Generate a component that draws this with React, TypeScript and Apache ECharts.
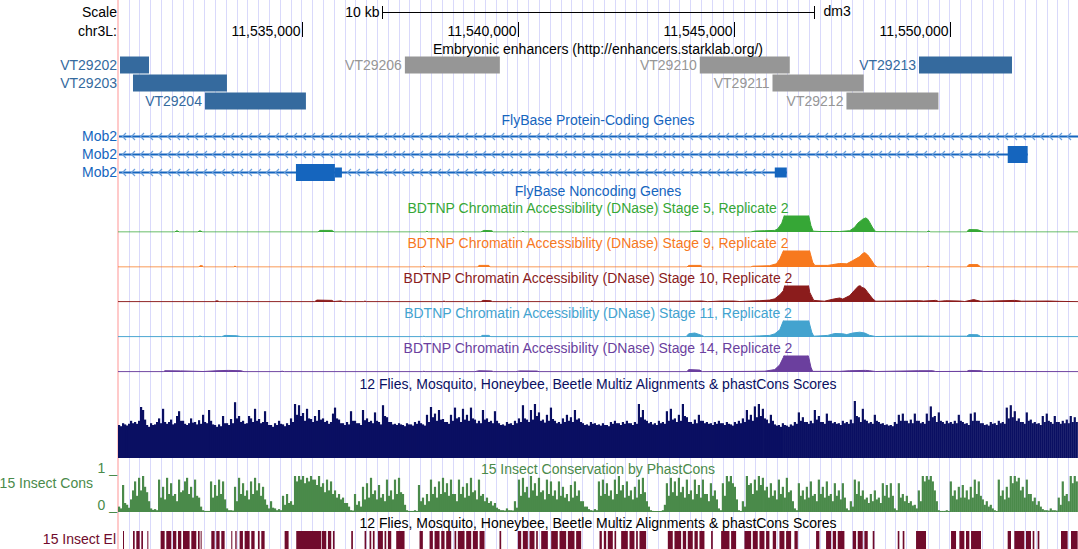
import React, { useEffect, useRef } from "react";
import * as echarts from "echarts";

// ---------------- data ----------------
const VIEW_START = 11530750;
const VIEW_END = 11552972;
const GUIDE_STEP = 250;
const COORD_TICKS = [11535000, 11540000, 11545000, 11550000];
const SCALE_BAR = [11536861, 11546861];
const SCALE_LABEL = "10 kb";
const ASSEMBLY = "dm3";
const CHROM_LABEL = "chr3L:";

const ENH_NAMES = ["VT29202", "VT29203", "VT29204", "VT29206", "VT29210", "VT29211", "VT29212", "VT29213"];
const ENH_START = [11530796, 11531097, 11532763, 11537391, 11544217, 11545900, 11547612, 11549292];
const ENH_END = [11531467, 11533272, 11535100, 11539589, 11546300, 11548012, 11549741, 11551444];
const ENH_ROW = [0, 1, 2, 0, 0, 1, 2, 0];
const ENH_ACTIVE = [true, true, true, false, false, false, false, true];

const GENE_NAMES = ["Mob2", "Mob2", "Mob2"];
const GENE_START = [11530600, 11530600, 11530600];
const GENE_END = [11553200, 11551807, 11546231];
// [start, end, thick(1) / thin(0)]
const GENE_EXONS = [
  [],
  [[11551345, 11551807, 1]],
  [[11534869, 11535771, 1], [11535771, 11535933, 0], [11545953, 11546231, 0]],
];

const DNASE_TITLES = [
  "BDTNP Chromatin Accessibility (DNase) Stage 5, Replicate 2",
  "BDTNP Chromatin Accessibility (DNase) Stage 9, Replicate 2",
  "BDTNP Chromatin Accessibility (DNase) Stage 10, Replicate 2",
  "BDTNP Chromatin Accessibility (DNase) Stage 11, Replicate 2",
  "BDTNP Chromatin Accessibility (DNase) Stage 14, Replicate 2",
];
const DNASE_S5 = [
  [11530750, 0], [11532060, 0], [11532115, 0.08], [11532170, 0], [11532590, 0], [11532647, 0.08], [11532710, 0],
  [11535380, 0], [11535424, 0.1], [11535700, 0.1], [11535760, 0], [11537880, 0], [11537900, 0.05], [11537930, 0],
  [11539150, 0], [11539220, 0.1], [11539404, 0.08], [11539440, 0], [11540100, 0], [11540122, 0.06], [11540150, 0],
  [11543980, 0], [11544050, 0.06], [11544240, 0.06], [11544290, 0], [11545400, 0], [11545500, 0.06], [11545720, 0.08],
  [11545953, 0.1], [11546022, 0.2], [11546115, 0.55], [11546170, 1.0], [11546200, 1.5], [11546700, 1.5], [11546740, 1.0],
  [11546790, 0.4], [11546840, 0.05], [11547000, 0.03], [11547450, 0.03], [11547688, 0.08], [11547804, 0.3],
  [11547874, 0.55], [11547989, 0.8], [11548059, 0.88], [11548105, 0.8], [11548151, 0.6], [11548221, 0.25],
  [11548290, 0.02], [11549470, 0], [11549517, 0.06], [11549560, 0], [11550390, 0], [11550450, 0.15], [11550650, 0.14],
  [11550790, 0], [11552972, 0],
];
const DNASE_S9 = [
  [11530750, 0], [11532620, 0], [11532647, 0.08], [11532700, 0.08], [11532730, 0], [11533440, 0], [11533457, 0.07],
  [11533480, 0], [11537800, 0], [11537831, 0.06], [11537860, 0], [11539080, 0], [11539104, 0.1], [11539335, 0.1],
  [11539360, 0], [11543920, 0], [11543960, 0.1], [11544240, 0.1], [11544280, 0], [11545400, 0], [11545444, 0.05],
  [11545830, 0.08], [11545990, 0.2], [11546069, 0.5], [11546150, 1.0], [11546230, 1.5], [11546693, 1.5],
  [11546760, 1.0], [11546830, 0.3], [11546880, 0.1], [11547180, 0.1], [11547295, 0.15], [11547457, 0.22],
  [11547619, 0.2], [11547758, 0.4], [11547920, 0.65], [11547989, 0.85], [11548036, 0.9], [11548105, 0.75],
  [11548198, 0.4], [11548267, 0.1], [11548330, 0], [11549460, 0], [11549493, 0.05], [11549540, 0], [11550390, 0],
  [11550450, 0.15], [11550650, 0.15], [11550720, 0], [11552972, 0],
];
const DNASE_S10 = [
  [11530750, 0.02], [11532980, 0.02], [11533041, 0.08], [11533100, 0.02], [11535300, 0.02], [11535355, 0.12],
  [11535700, 0.1], [11535748, 0.03], [11535910, 0.07], [11535960, 0.02], [11536440, 0.02], [11536466, 0.06],
  [11536500, 0.02], [11538270, 0.02], [11538294, 0.06], [11538330, 0.02], [11539150, 0.02], [11539200, 0.1],
  [11539380, 0.08], [11539420, 0.02], [11541690, 0.02], [11541718, 0.08], [11541760, 0.02], [11543940, 0.05],
  [11544264, 0.06], [11544400, 0.02], [11544700, 0.06], [11545000, 0.06], [11545143, 0.03], [11545374, 0.06],
  [11545606, 0.08], [11545837, 0.12], [11545953, 0.2], [11546069, 0.45], [11546150, 0.7], [11546210, 1.3],
  [11546250, 1.5], [11546700, 1.5], [11546763, 0.6], [11546809, 0.35], [11546855, 0.1], [11547100, 0.05],
  [11547342, 0.2], [11547457, 0.25], [11547527, 0.18], [11547688, 0.4], [11547804, 0.75], [11547874, 0.95],
  [11547920, 1.08], [11547960, 0.92], [11548036, 0.85], [11548105, 0.6], [11548221, 0.2], [11548290, 0.05],
  [11549285, 0.08], [11549400, 0.06], [11549679, 0.1], [11549748, 0.04], [11549910, 0.08], [11550234, 0.06],
  [11550350, 0.03], [11550558, 0.15], [11550720, 0.04], [11551507, 0.1], [11551669, 0.05], [11552316, 0.06],
  [11552548, 0.04], [11552972, 0.02],
];
const DNASE_S11 = [
  [11530750, 0.02], [11532600, 0.02], [11532647, 0.06], [11532700, 0.02], [11533150, 0.02], [11533226, 0.1],
  [11533500, 0.08], [11533596, 0.02], [11537800, 0.02], [11537831, 0.05], [11537860, 0.02], [11539150, 0.02],
  [11539173, 0.1], [11539335, 0.1], [11539380, 0.02], [11543900, 0.02], [11543960, 0.2], [11544102, 0.25],
  [11544264, 0.1], [11544320, 0.02], [11545374, 0.04], [11545606, 0.07], [11545837, 0.1], [11545953, 0.2],
  [11546069, 0.45], [11546150, 1.0], [11546200, 1.5], [11546693, 1.5], [11546740, 1.0], [11546809, 0.3],
  [11546855, 0.05], [11547179, 0.1], [11547342, 0.22], [11547527, 0.2], [11547619, 0.15], [11547758, 0.25],
  [11547920, 0.3], [11548036, 0.25], [11548151, 0.1], [11548290, 0.03], [11548845, 0.05], [11549308, 0.06],
  [11549609, 0.05], [11550396, 0.05], [11550450, 0.15], [11550650, 0.14], [11550720, 0.03], [11552972, 0.02],
];
const DNASE_S14 = [
  [11530750, 0.02], [11531800, 0.02], [11531838, 0.08], [11532200, 0.07], [11532717, 0.03], [11533041, 0.08],
  [11533300, 0.1], [11533596, 0.08], [11533666, 0.02], [11534500, 0.02], [11534550, 0.05], [11534600, 0.02],
  [11537800, 0.02], [11537831, 0.05], [11537860, 0.02], [11539011, 0.02], [11539100, 0.08], [11539404, 0.06],
  [11539440, 0.02], [11539960, 0.02], [11540050, 0.07], [11540446, 0.06], [11540500, 0.02], [11543920, 0.02],
  [11543960, 0.15], [11544217, 0.12], [11544280, 0.02], [11545444, 0.04], [11545722, 0.05], [11545953, 0.15],
  [11546069, 0.45], [11546150, 0.9], [11546230, 1.5], [11546670, 1.5], [11546740, 0.9], [11546790, 0.3],
  [11546830, 0.04], [11547457, 0.04], [11547688, 0.08], [11548050, 0.1], [11548151, 0.08], [11548290, 0.03],
  [11549285, 0.08], [11549609, 0.08], [11549679, 0.03], [11550396, 0.04], [11550450, 0.1], [11550720, 0.08],
  [11550789, 0.03], [11552972, 0.02],
];

const BIN_BP = 46.28;
const MULTIZ = [
  0.55, 0.53, 0.58, 0.56, 0.54, 0.57, 0.62, 0.58, 0.60, 0.57, 0.62, 0.85, 0.80, 0.64, 0.55, 0.52, 0.58, 0.55, 0.56, 0.60,
  0.66, 0.58, 0.82, 0.60, 0.57, 0.60, 0.64, 0.56, 0.58, 0.70, 0.78, 0.62, 0.62, 0.57, 0.55, 0.58, 0.66, 0.59, 0.60, 0.56,
  0.63, 0.57, 0.72, 0.60, 0.58, 0.80, 0.62, 0.56, 0.55, 0.52, 0.56, 0.53, 0.70, 0.58, 0.58, 0.55, 0.65, 0.58, 0.93, 0.66,
  0.70, 0.60, 0.62, 0.57, 0.58, 0.70, 0.66, 0.60, 0.82, 0.62, 0.65, 0.58, 0.60, 0.78, 0.60, 0.55, 0.55, 0.52, 0.58, 0.55,
  0.62, 0.57, 0.56, 0.53, 0.58, 0.55, 0.66, 0.60, 0.90, 0.72, 0.88, 0.70, 0.75, 0.62, 0.82, 0.66, 0.65, 0.60, 0.70, 0.62,
  0.80, 0.64, 0.66, 0.60, 0.62, 0.57, 0.60, 0.74, 0.84, 0.66, 0.64, 0.58, 0.58, 0.55, 0.60, 0.56, 0.78, 0.62, 0.62, 0.58,
  0.58, 0.55, 0.80, 0.63, 0.66, 0.60, 0.62, 0.58, 0.76, 0.62, 0.60, 0.56, 0.88, 0.70, 0.68, 0.60, 0.60, 0.56, 0.57, 0.55,
  0.58, 0.56, 0.55, 0.53, 0.58, 0.56, 0.56, 0.54, 0.60, 0.57, 0.62, 0.58, 0.56, 0.54, 0.72, 0.60, 0.85, 0.68, 0.74, 0.62,
  0.80, 0.64, 0.65, 0.60, 0.60, 0.57, 0.72, 0.62, 0.84, 0.66, 0.68, 0.60, 0.82, 0.64, 0.72, 0.62, 0.84, 0.66, 0.64, 0.58,
  0.62, 0.58, 0.80, 0.64, 0.66, 0.60, 0.62, 0.58, 0.78, 0.62, 0.58, 0.55, 0.56, 0.54, 0.60, 0.57, 0.58, 0.55, 0.62, 0.58,
  0.66, 0.60, 0.88, 0.66, 0.64, 0.60, 0.80, 0.64, 0.90, 0.70, 0.76, 0.62, 0.64, 0.59, 0.72, 0.62, 0.84, 0.65, 0.62, 0.58,
  0.60, 0.57, 0.66, 0.60, 0.72, 0.62, 0.68, 0.60, 0.80, 0.64, 0.66, 0.60, 0.58, 0.55, 0.56, 0.54, 0.60, 0.57, 0.58, 0.55,
  0.56, 0.54, 0.58, 0.55, 0.55, 0.53, 0.60, 0.57, 0.62, 0.58, 0.58, 0.55, 0.60, 0.57, 0.62, 0.58, 0.58, 0.55, 0.60, 0.57,
  0.90, 0.68, 0.80, 0.64, 0.62, 0.58, 0.60, 0.56, 0.58, 0.55, 0.62, 0.58, 0.60, 0.57, 0.78, 0.62, 0.82, 0.64, 0.66, 0.60,
  0.72, 0.62, 0.90, 0.70, 0.68, 0.60, 0.60, 0.57, 0.64, 0.58, 0.72, 0.62, 0.62, 0.58, 0.60, 0.57, 0.58, 0.55, 0.60, 0.57,
  0.62, 0.58, 0.58, 0.55, 0.60, 0.57, 0.56, 0.54, 0.60, 0.57, 0.62, 0.58, 0.66, 0.60, 0.80, 0.64, 0.72, 0.62, 0.86, 0.68,
  0.90, 0.70, 0.82, 0.66, 0.64, 0.58, 0.72, 0.62, 0.56, 0.54, 0.55, 0.52, 0.58, 0.55, 0.54, 0.52, 0.56, 0.54, 0.60, 0.57,
  0.76, 0.62, 0.68, 0.60, 0.60, 0.57, 0.62, 0.58, 0.80, 0.64, 0.70, 0.60, 0.60, 0.57, 0.74, 0.62, 0.62, 0.58, 0.60, 0.57,
  0.58, 0.55, 0.62, 0.58, 0.60, 0.57, 0.64, 0.58, 0.95, 0.70, 0.68, 0.60, 0.82, 0.64, 0.62, 0.58, 0.60, 0.57, 0.72, 0.62,
  0.60, 0.57, 0.58, 0.55, 0.56, 0.54, 0.55, 0.53, 0.60, 0.57, 0.72, 0.62, 0.74, 0.62, 0.62, 0.58, 0.64, 0.58, 0.74, 0.62,
  0.62, 0.58, 0.60, 0.57, 0.74, 0.62, 0.86, 0.68, 0.70, 0.60, 0.76, 0.62, 0.60, 0.57, 0.62, 0.58, 0.60, 0.57, 0.62, 0.58,
  0.72, 0.62, 0.60, 0.57, 0.58, 0.55, 0.74, 0.62, 0.76, 0.62, 0.62, 0.58, 0.58, 0.55, 0.56, 0.54, 0.60, 0.57, 0.58, 0.55,
  0.62, 0.58, 0.60, 0.57, 0.84, 0.66, 0.88, 0.68, 0.78, 0.62, 0.66, 0.60, 0.60, 0.57, 0.76, 0.62, 0.64, 0.58, 0.60, 0.57,
  0.58, 0.55, 0.70, 0.60, 0.74, 0.62, 0.60, 0.57, 0.70, 0.60, 0.60, 0.57, 0.62, 0.58, 0.64, 0.58, 0.70, 0.60, 0.68, 0.60,
];
const PHASTCONS = [
  0.15, 0.10, 0.75, 0.25, 0.20, 0.12, 0.35, 0.60, 0.85, 0.45, 0.95, 0.60, 1.00, 0.70, 0.55, 0.30, 0.10, 0.06, 0.08, 0.05,
  0.90, 0.40, 0.70, 0.35, 0.95, 0.50, 0.80, 0.45, 0.50, 0.30, 0.90, 0.55, 0.60, 0.85, 0.95, 0.50, 0.70, 0.40, 0.90, 0.45,
  0.40, 0.15, 0.05, 0.03, 0.03, 0.03, 0.85, 0.40, 0.75, 0.45, 0.90, 0.50, 0.85, 0.35, 0.10, 0.05, 0.05, 0.04, 0.70, 0.30,
  0.95, 0.50, 0.80, 0.45, 0.60, 0.35, 0.85, 0.50, 0.95, 0.60, 0.80, 0.45, 0.70, 0.35, 0.20, 0.10, 0.30, 0.12, 0.10, 0.05,
  0.08, 0.05, 0.45, 0.20, 0.50, 0.25, 0.30, 0.20, 1.00, 0.85, 1.00, 0.90, 1.00, 0.80, 0.95, 0.85, 1.00, 0.90, 0.90, 0.75,
  1.00, 0.70, 0.80, 0.55, 0.90, 0.60, 0.85, 0.50, 0.60, 0.40, 0.50, 0.35, 0.40, 0.25, 0.25, 0.15, 0.05, 0.04, 0.50, 0.20,
  0.30, 0.15, 0.70, 0.35, 0.80, 0.40, 0.95, 0.50, 0.60, 0.35, 0.75, 0.40, 0.50, 0.30, 0.90, 0.45, 0.60, 0.35, 0.90, 0.50,
  0.95, 0.55, 0.50, 0.20, 0.05, 0.03, 0.03, 0.03, 0.05, 0.03, 0.75, 0.30, 0.40, 0.20, 0.50, 0.30, 0.90, 0.50, 0.70, 0.40,
  0.85, 0.50, 0.95, 0.55, 0.80, 0.45, 0.90, 0.50, 0.50, 0.30, 0.90, 0.50, 0.70, 0.40, 0.80, 0.45, 0.95, 0.55, 0.60, 0.35,
  0.90, 0.45, 0.50, 0.30, 0.40, 0.25, 0.30, 0.18, 0.25, 0.12, 0.08, 0.05, 0.05, 0.04, 0.10, 0.05, 0.05, 0.04, 0.30, 0.12,
  0.90, 0.45, 0.95, 0.55, 0.70, 0.40, 1.00, 0.60, 0.80, 0.45, 0.95, 0.55, 0.60, 0.35, 0.90, 0.50, 0.85, 0.45, 0.60, 0.35,
  0.85, 0.45, 0.70, 0.40, 0.50, 0.30, 0.75, 0.40, 0.85, 0.45, 0.60, 0.30, 0.30, 0.15, 0.15, 0.08, 0.05, 0.04, 0.08, 0.05,
  0.85, 0.45, 0.90, 0.50, 0.80, 0.45, 0.60, 0.35, 0.90, 0.50, 1.00, 0.60, 0.75, 0.40, 0.85, 0.45, 0.60, 0.35, 0.70, 0.40,
  0.90, 0.50, 0.95, 0.55, 0.30, 0.15, 0.05, 0.03, 0.02, 0.02, 0.02, 0.02, 0.05, 0.20, 0.80, 0.45, 0.95, 0.55, 0.85, 0.45,
  0.95, 0.55, 0.70, 0.40, 0.90, 0.50, 0.60, 0.35, 0.90, 0.50, 0.75, 0.40, 0.90, 0.50, 0.50, 0.30, 0.80, 0.45, 0.60, 0.35,
  0.10, 0.05, 0.80, 0.45, 1.00, 0.85, 1.00, 0.80, 0.70, 0.35, 0.05, 0.03, 0.30, 0.15, 1.00, 0.75, 0.80, 0.50, 0.90, 0.60,
  1.00, 0.75, 0.95, 0.60, 0.70, 0.40, 0.80, 0.45, 0.60, 0.35, 0.90, 0.50, 0.70, 0.40, 0.95, 0.55, 0.60, 0.30, 0.10, 0.05,
  0.80, 0.45, 0.60, 0.35, 0.70, 0.40, 0.85, 0.45, 0.50, 0.30, 0.90, 0.50, 0.70, 0.40, 0.85, 0.45, 0.50, 0.30, 0.80, 0.45,
  0.60, 0.35, 0.80, 0.40, 0.10, 0.05, 0.30, 0.15, 0.90, 0.50, 0.85, 0.45, 0.60, 0.35, 0.40, 0.25, 0.50, 0.30, 0.60, 0.35,
  0.40, 0.25, 0.80, 0.45, 0.75, 0.40, 0.80, 0.45, 0.10, 0.05, 0.80, 0.40, 0.50, 0.30, 0.45, 0.25, 0.30, 0.18, 0.20, 0.10,
  0.60, 0.30, 1.00, 0.85, 1.00, 0.90, 1.00, 0.85, 0.60, 0.30, 0.05, 0.03, 0.03, 0.03, 0.05, 0.03, 0.85, 0.45, 0.60, 0.35,
  0.70, 0.40, 0.75, 0.40, 0.60, 0.35, 0.70, 0.40, 0.90, 0.50, 0.85, 0.45, 0.35, 0.20, 0.30, 0.15, 0.20, 0.10, 0.05, 0.03,
  0.90, 0.45, 0.60, 0.35, 0.70, 0.40, 1.00, 0.80, 1.00, 0.85, 0.95, 0.60, 0.70, 0.40, 0.90, 0.50, 0.50, 0.30, 0.40, 0.20,
  0.30, 0.15, 0.08, 0.05, 0.05, 0.04, 0.10, 0.05, 0.05, 0.04, 0.40, 0.20, 0.85, 0.45, 0.50, 0.30, 1.00, 0.80, 1.00, 0.85,
];
const ELEMENTS = [
  [11530866, 11530889], [11531097, 11531136], [11531174, 11531251], [11531290, 11531328], [11531429, 11531444],
  [11531737, 11531830], [11531868, 11531984], [11532023, 11532100], [11532138, 11532215], [11532254, 11532408],
  [11532447, 11532563], [11532601, 11532640], [11532663, 11532678], [11532910, 11532987], [11533025, 11533102],
  [11533141, 11533218], [11533372, 11533396], [11533465, 11533496], [11533565, 11533642], [11533681, 11533797],
  [11533835, 11533912], [11533989, 11534028], [11534067, 11534144], [11534607, 11534699], [11534876, 11535455],
  [11535470, 11535571], [11535609, 11535686], [11535725, 11535763], [11536149, 11536188], [11536458, 11536496],
  [11536573, 11536612], [11536650, 11536689], [11536766, 11536882], [11536920, 11536959], [11536998, 11537075],
  [11537190, 11537383], [11537730, 11537807], [11537962, 11538039], [11538077, 11538193], [11538232, 11538309],
  [11538347, 11538463], [11538540, 11538579], [11538617, 11538772], [11538810, 11538926], [11538964, 11539080],
  [11539119, 11539234], [11539581, 11539620], [11540006, 11540083], [11540121, 11540237], [11540276, 11540391],
  [11540430, 11540468], [11540546, 11540700], [11540777, 11540931], [11540970, 11541124], [11541163, 11541317],
  [11541355, 11541471], [11541896, 11541950], [11541996, 11542050], [11542088, 11542204], [11542243, 11542281],
  [11542397, 11542551], [11542590, 11542705], [11542744, 11542783], [11542821, 11542975], [11543477, 11543592],
  [11543631, 11543785], [11543824, 11543901], [11543939, 11544055], [11544094, 11544171], [11544209, 11544325],
  [11544479, 11544518], [11544711, 11544904], [11544942, 11545058], [11545251, 11545405], [11545444, 11545559],
  [11545598, 11545714], [11545752, 11545829], [11545906, 11545984], [11546061, 11546176], [11546215, 11546331],
  [11546408, 11546485], [11546909, 11546986], [11547140, 11547256], [11547295, 11547372], [11547410, 11547565],
  [11547757, 11547835], [11547873, 11547989], [11548027, 11548105], [11548220, 11548259], [11548799, 11548837],
  [11548914, 11548953], [11549223, 11549454], [11550033, 11550149], [11550226, 11550341], [11550380, 11550457],
  [11550496, 11550727], [11551344, 11551421], [11551498, 11551730], [11551768, 11551884], [11551923, 11551961],
  [11552038, 11552077], [11552578, 11552732], [11552810, 11552964],
];

// ---------------- layout & style ----------------
const W = 1078;
const H = 549;
const LEFT = 118;
const RIGHT = 1078;
const CX = 598;
const FONT = "14px 'Liberation Sans', Arial, Helvetica, sans-serif";
const ENH_ROW_Y = [65, 83, 101];
const GENE_ROW_Y = [136, 154, 172];
const DNASE_TOP = [216, 251, 286, 321, 356];
const DNASE_H = 16;
const DNASE_COLORS = ["#36a736", "#f7791e", "#8b1c1c", "#43a3cf", "#6b3f9e"];
const MULTIZ_TOP = 398;
const MULTIZ_H = 60;
const CONS_TOP = 476;
const CONS_H = 36;
const EL_TOP = 531;
const EL_H = 18;
const BLUE_ENH = "#356a9e";
const GRAY_ENH = "#969696";
const GENE_BLUE = "#1565be";
const CHEVRON = "#6a9fdc";
const NAVY = "#0a0f62";
const GREEN = "#4a8a4a";
const MAROON = "#700b2c";

function txt(text: string, x: number, y: number, fill: string, align = "center") {
  return {
    type: "text",
    silent: true,
    z: 50,
    style: {
      text, x, y, fill, font: FONT,
      textAlign: align, textVerticalAlign: "middle",
      align, verticalAlign: "middle",
    },
  };
}

function clipSegments(pts: number[][], max: number) {
  const segs: number[][] = [];
  let start: number | null = null;
  for (let i = 0; i < pts.length; i++) {
    const [x, y] = pts[i];
    if (y >= max && start === null) {
      if (i > 0) {
        const [px, py] = pts[i - 1];
        start = px + ((x - px) * (max - py)) / (y - py);
      } else start = x;
    } else if (y < max && start !== null) {
      const [px, py] = pts[i - 1];
      segs.push([start, px + ((x - px) * (py - max)) / (py - y)]);
      start = null;
    }
  }
  return segs;
}

function buildOption() {
  const dnase = [DNASE_S5, DNASE_S9, DNASE_S10, DNASE_S11, DNASE_S14];
  const grids: any[] = [{ left: LEFT, top: 0, width: RIGHT - LEFT, height: H }];
  const xAxes: any[] = [
    {
      gridIndex: 0, type: "value", min: VIEW_START, max: VIEW_END, interval: GUIDE_STEP,
      axisLine: { show: false }, axisTick: { show: false }, axisLabel: { show: false },
      splitLine: { show: true, lineStyle: { color: "#d9d9fb", width: 1 } },
    },
  ];
  const yAxes: any[] = [
    {
      gridIndex: 0, type: "value", min: 0, max: H, inverse: true,
      axisLine: { show: true, onZero: false, lineStyle: { color: "#ffcaca", width: 2 } },
      axisTick: { show: false }, axisLabel: { show: false }, splitLine: { show: false },
    },
  ];
  const addGrid = (top: number, height: number) => {
    grids.push({ left: LEFT, top, width: RIGHT - LEFT, height });
    const gi = grids.length - 1;
    xAxes.push({ gridIndex: gi, type: "value", min: VIEW_START, max: VIEW_END, show: false });
    yAxes.push({ gridIndex: gi, type: "value", min: 0, max: 1, show: false });
    return gi;
  };
  const tstyle = (text: string, x: number, y: number, fill: string, align: string) => ({
    text, x, y, fill, font: FONT, textAlign: align, textVerticalAlign: "middle", align, verticalAlign: "middle",
  });

  const series: any[] = [];

  // scale bar
  series.push({
    type: "custom", xAxisIndex: 0, yAxisIndex: 0, silent: true, clip: false,
    data: [[SCALE_BAR[0], SCALE_BAR[1]]],
    renderItem: (_p: any, api: any) => {
      const x1 = Math.round(api.coord([api.value(0), 12])[0]) + 0.5;
      const x2 = Math.round(api.coord([api.value(1), 12])[0]) + 0.5;
      const st = { stroke: "#000", lineWidth: 1 };
      return {
        type: "group",
        children: [
          { type: "line", shape: { x1, y1: 12.5, x2, y2: 12.5 }, style: st },
          { type: "line", shape: { x1, y1: 6, x2: x1, y2: 19 }, style: st },
          { type: "line", shape: { x1: x2, y1: 6, x2, y2: 19 }, style: st },
          { type: "text", style: tstyle(SCALE_LABEL, x1 - 3, 12, "#000", "right") },
          { type: "text", style: tstyle(ASSEMBLY, x2 + 9, 11, "#000", "left") },
        ],
      };
    },
  });

  // coordinate ticks
  series.push({
    type: "custom", xAxisIndex: 0, yAxisIndex: 0, silent: true, clip: false,
    data: COORD_TICKS.map((v) => [v]),
    renderItem: (_p: any, api: any) => {
      const v = api.value(0);
      const x = Math.round(api.coord([v, 30])[0]) + 0.5;
      return {
        type: "group",
        children: [
          { type: "line", shape: { x1: x, y1: 22, x2: x, y2: 37 }, style: { stroke: "#000", lineWidth: 1 } },
          { type: "text", style: tstyle(Number(v).toLocaleString("en-US"), x - 2, 31, "#000", "right") },
        ],
      };
    },
  });

  // enhancers
  series.push({
    type: "custom", xAxisIndex: 0, yAxisIndex: 0, silent: true, clip: false,
    data: ENH_START.map((s, i) => [s, ENH_END[i], ENH_ROW[i]]),
    renderItem: (p: any, api: any) => {
      const i = p.dataIndex;
      const y = ENH_ROW_Y[api.value(2)];
      const x1 = Math.max(api.coord([api.value(0), y])[0], LEFT + 1);
      const x2 = api.coord([api.value(1), y])[0];
      const color = ENH_ACTIVE[i] ? BLUE_ENH : GRAY_ENH;
      const name = ENH_NAMES[i];
      const wEst = name.length * 7.8;
      let lx = x1 - 3;
      if (lx - wEst < LEFT) lx = LEFT - 1;
      return {
        type: "group",
        children: [
          { type: "rect", shape: { x: x1, y: y - 8.5, width: x2 - x1, height: 17 }, style: { fill: color } },
          { type: "text", style: tstyle(name, lx, y, color, "right") },
        ],
      };
    },
  });

  // genes
  series.push({
    type: "custom", xAxisIndex: 0, yAxisIndex: 0, silent: true, clip: false,
    data: GENE_START.map((s, i) => [s, GENE_END[i], i]),
    renderItem: (p: any, api: any) => {
      const i = p.dataIndex;
      const y = GENE_ROW_Y[i];
      const xs = Math.max(api.coord([api.value(0), y])[0], LEFT + 1);
      const xe = Math.min(api.coord([api.value(1), y])[0], RIGHT);
      const exons = GENE_EXONS[i].map((e) => [api.coord([e[0], y])[0], api.coord([e[1], y])[0], e[2]]);
      const children: any[] = [
        { type: "line", shape: { x1: xs, y1: y + 0.5, x2: xe, y2: y + 0.5 }, style: { stroke: GENE_BLUE, lineWidth: 2 } },
      ];
      for (let cx = xs + 4; cx < xe - 3; cx += 9) {
        if (exons.some((e) => cx > e[0] - 4 && cx < e[1] + 2)) continue;
        children.push({
          type: "polyline",
          shape: { points: [[cx + 3, y - 3], [cx - 0.5, y + 0.5], [cx + 3, y + 4]] },
          style: { stroke: CHEVRON, lineWidth: 1.2, fill: "none" },
        });
      }
      exons.forEach((e) => {
        const h = e[2] ? 17 : 10;
        children.push({ type: "rect", shape: { x: e[0], y: y + 0.5 - h / 2, width: e[1] - e[0], height: h }, style: { fill: GENE_BLUE } });
      });
      children.push({ type: "text", style: tstyle(GENE_NAMES[i], LEFT - 1, y, GENE_BLUE, "right") });
      return { type: "group", children };
    },
  });

  // DNase tracks
  dnase.forEach((pts, k) => {
    const gi = addGrid(DNASE_TOP[k], DNASE_H);
    const color = DNASE_COLORS[k];
    series.push({
      type: "line", xAxisIndex: gi, yAxisIndex: gi, data: pts, symbol: "none", showSymbol: false,
      silent: true, clip: true, lineStyle: { color, width: 1 }, areaStyle: { color, opacity: 1 },
    });
    series.push({
      type: "custom", xAxisIndex: gi, yAxisIndex: gi, silent: true, clip: false,
      data: clipSegments(pts, 1),
      renderItem: (_p: any, api: any) => {
        const a = api.coord([api.value(0), 1]);
        const b = api.coord([api.value(1), 1]);
        return { type: "rect", shape: { x: a[0], y: a[1], width: b[0] - a[0], height: 2 }, style: { fill: "#ff00ff" } };
      },
    });
  });

  // wiggle bars (multiz / phastCons)
  const bars = (values: number[], color: string, gi: number) => ({
    type: "custom", xAxisIndex: gi, yAxisIndex: gi, silent: true, clip: true,
    data: values.map((v, i) => [VIEW_START + i * BIN_BP, VIEW_START + (i + 1) * BIN_BP, v]),
    renderItem: (_p: any, api: any) => {
      const a = api.coord([api.value(0), 0]);
      const b = api.coord([api.value(1), api.value(2)]);
      const h = Math.max(1, a[1] - b[1]);
      return { type: "rect", shape: { x: a[0], y: a[1] - h, width: b[0] - a[0] + 0.2, height: h }, style: { fill: color } };
    },
  });
  const gm = addGrid(MULTIZ_TOP, MULTIZ_H);
  series.push(bars(MULTIZ, NAVY, gm));
  const gc = addGrid(CONS_TOP, CONS_H);
  series.push(bars(PHASTCONS, GREEN, gc));

  // conserved elements
  series.push({
    type: "custom", xAxisIndex: 0, yAxisIndex: 0, silent: true, clip: false,
    data: ELEMENTS,
    renderItem: (_p: any, api: any) => {
      const a = api.coord([api.value(0), EL_TOP]);
      const b = api.coord([api.value(1), EL_TOP]);
      return { type: "rect", shape: { x: a[0], y: EL_TOP, width: Math.max(1, b[0] - a[0]), height: EL_H }, style: { fill: MAROON } };
    },
  });

  const graphics = [
    txt("Scale", LEFT - 1, 12, "#000", "right"),
    txt(CHROM_LABEL, LEFT - 1, 31, "#000", "right"),
    txt("Embryonic enhancers (http://enhancers.starklab.org/)", CX, 49, "#000"),
    txt("FlyBase Protein-Coding Genes", CX, 120, GENE_BLUE),
    txt("FlyBase Noncoding Genes", CX, 191, GENE_BLUE),
    ...DNASE_TITLES.map((t, k) => txt(t, CX, 208 + 35 * k, DNASE_COLORS[k])),
    txt("12 Flies, Mosquito, Honeybee, Beetle Multiz Alignments & phastCons Scores", CX, 384, NAVY),
    txt("15 Insect Conservation by PhastCons", CX, 469, GREEN),
    txt("1 _", LEFT - 1, 468, GREEN, "right"),
    txt("15 Insect Cons", 93, 483, GREEN, "right"),
    txt("0 _", LEFT - 1, 505, GREEN, "right"),
    txt("12 Flies, Mosquito, Honeybee, Beetle Multiz Alignments & phastCons Scores", CX, 523, "#000"),
    txt("15 Insect El", LEFT - 2, 539, MAROON, "right"),
  ];

  return {
    animation: false,
    backgroundColor: "#ffffff",
    grid: grids,
    xAxis: xAxes,
    yAxis: yAxes,
    series,
    graphic: { elements: graphics },
  };
}

export default function App() {
  const ref = useRef<HTMLDivElement>(null);
  useEffect(() => {
    const chart = echarts.init(ref.current as HTMLDivElement, undefined, { renderer: "svg" });
    chart.setOption(buildOption() as any);
    return () => chart.dispose();
  }, []);
  return (
    <div
      ref={ref}
      style={{ position: "absolute", left: 0, top: 0, width: W, height: H, background: "#fff" }}
    />
  );
}
